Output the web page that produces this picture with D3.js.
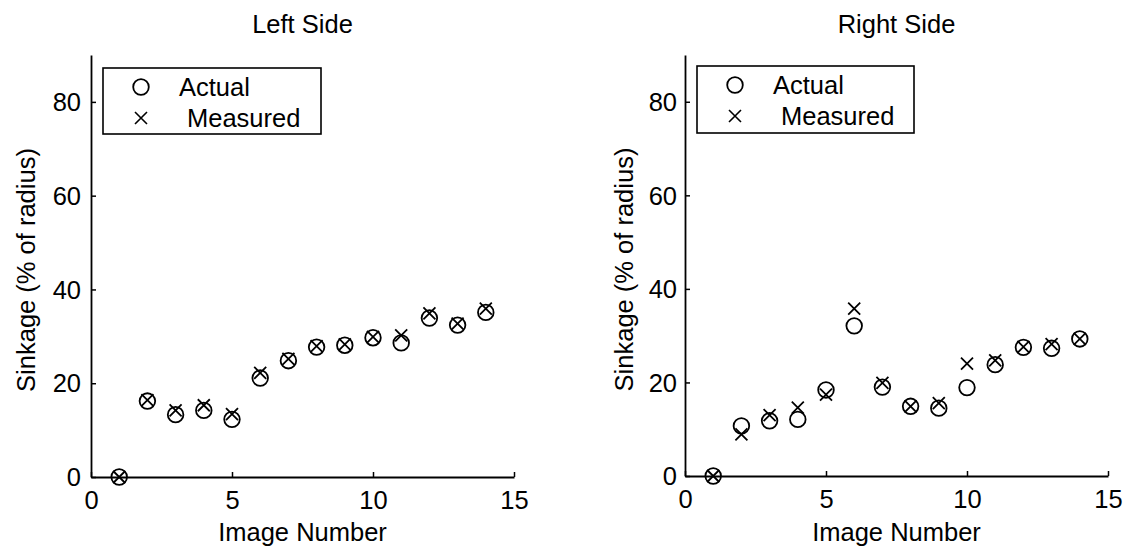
<!DOCTYPE html>
<html>
<head>
<meta charset="utf-8">
<script src="https://cdn.jsdelivr.net/npm/d3@7"></script>
<style>
  html, body { margin: 0; padding: 0; background: #fff; }
  svg { display: block; }
  text { font-family: "Liberation Sans", Arial, Helvetica, sans-serif; fill: #000; }
</style>
</head>
<body>
<svg id="chart" width="1128" height="548"></svg>
<script>
const imageNumbers = [1, 2, 3, 4, 5, 6, 7, 8, 9, 10, 11, 12, 13, 14];
const leftActual   = [0, 16.2, 13.3, 14.2, 12.3, 21.1, 24.8, 27.7, 28.1, 29.7, 28.6, 33.9, 32.4, 35.1];
const leftMeasured = [0, 16.4, 14.2, 15.3, 13.4, 22.2, 25.2, 27.9, 28.3, 29.9, 30.2, 34.9, 32.7, 35.9];
const rightActual   = [0, 10.7, 11.8, 12.1, 18.4, 32.1, 19.0, 14.9, 14.5, 18.9, 23.8, 27.5, 27.3, 29.3];
const rightMeasured = [0, 8.9, 13.0, 14.6, 17.4, 35.8, 19.9, 14.9, 15.6, 24.0, 24.7, 27.6, 28.2, 29.3];
const xTicks = [0, 5, 10, 15];
const yTicks = [0, 20, 40, 60, 80];
const xDomain = [0, 15];
const yDomain = [0, 90];
const titles = ["Left Side", "Right Side"];
const xLabel = "Image Number";
const yLabel = "Sinkage (% of radius)";
const legendLabels = ["Actual", "Measured"];

const svg = d3.select("#chart");
const FS = 25.5;

const panels = [
  { title: titles[0], actual: leftActual, measured: leftMeasured,
    x0: 91, x1: 514, y0: 477, y1: 55, ylabX: 35, tickPad: 10,
    legend: { x: 103, y: 68, w: 218, h: 66, mx: 141, tx1: 179, tx2: 187 } },
  { title: titles[1], actual: rightActual, measured: rightMeasured,
    x0: 685, x1: 1108, y0: 476, y1: 55, ylabX: 633, tickPad: 8,
    legend: { x: 697, y: 66, w: 217, h: 67, mx: 735, tx1: 773, tx2: 781 } }
];

panels.forEach(p => {
  const x = d3.scaleLinear().domain(xDomain).range([p.x0, p.x1]);
  const y = d3.scaleLinear().domain(yDomain).range([p.y0, p.y1]);
  const g = svg.append("g");

  // axes
  const xAxis = d3.axisBottom(x).tickValues(xTicks).tickSizeInner(-5).tickSizeOuter(0).tickPadding(14);
  const yAxis = d3.axisLeft(y).tickValues(yTicks).tickSizeInner(-5).tickSizeOuter(0).tickPadding(p.tickPad);

  const gx = g.append("g").attr("transform", `translate(0,${p.y0})`).call(xAxis);
  const gy = g.append("g").attr("transform", `translate(${p.x0},0)`).call(yAxis);
  [gx, gy].forEach(a => {
    a.selectAll("path.domain").attr("stroke", "#000").attr("stroke-width", 1.8);
    a.selectAll(".tick line").attr("stroke", "#000").attr("stroke-width", 1.5);
    a.selectAll(".tick text").style("font-family", '"Liberation Sans", Arial, sans-serif')
      .style("font-size", FS + "px").attr("fill", "#000");
  });
  gx.selectAll(".tick text").attr("dy", "0.71em");
  gy.selectAll(".tick text").attr("dy", "0.34em");

  // title
  g.append("text").attr("x", (p.x0 + p.x1) / 2).attr("y", 33)
    .attr("text-anchor", "middle").style("font-size", FS + "px").text(p.title);
  // x label
  g.append("text").attr("x", (p.x0 + p.x1) / 2).attr("y", 541)
    .attr("text-anchor", "middle").style("font-size", FS + "px").text(xLabel);
  // y label
  g.append("text")
    .attr("transform", `translate(${p.ylabX},${(p.y0 + p.y1) / 2 + 4}) rotate(-90)`)
    .attr("text-anchor", "middle").style("font-size", FS + "px").text(yLabel);

  // markers
  const pts = imageNumbers.map((n, i) => ({ n, a: p.actual[i], m: p.measured[i] }));
  g.selectAll("circle.actual").data(pts).join("circle")
    .attr("class", "actual")
    .attr("cx", d => x(d.n)).attr("cy", d => y(d.a)).attr("r", 7.8)
    .attr("fill", "none").attr("stroke", "#000").attr("stroke-width", 1.8);
  const s = 6;
  g.selectAll("path.measured").data(pts).join("path")
    .attr("class", "measured")
    .attr("d", d => {
      const cx = x(d.n), cy = y(d.m);
      return `M${cx - s},${cy - s}L${cx + s},${cy + s}M${cx - s},${cy + s}L${cx + s},${cy - s}`;
    })
    .attr("fill", "none").attr("stroke", "#000").attr("stroke-width", 1.8);

  // legend
  const L = p.legend;
  const lg = g.append("g");
  lg.append("rect").attr("x", L.x).attr("y", L.y).attr("width", L.w).attr("height", L.h)
    .attr("fill", "#fff").attr("stroke", "#000").attr("stroke-width", 1.6);
  const r1 = L.y + 19, r2 = L.y + 50;
  lg.append("circle").attr("cx", L.mx).attr("cy", r1).attr("r", 7.8)
    .attr("fill", "none").attr("stroke", "#000").attr("stroke-width", 1.8);
  lg.append("path")
    .attr("d", `M${L.mx - s},${r2 - s}L${L.mx + s},${r2 + s}M${L.mx - s},${r2 + s}L${L.mx + s},${r2 - s}`)
    .attr("stroke", "#000").attr("stroke-width", 1.6).attr("fill", "none");
  lg.append("text").attr("x", L.tx1).attr("y", r1 + 8.5).style("font-size", FS + "px").text(legendLabels[0]);
  lg.append("text").attr("x", L.tx2).attr("y", r2 + 8.5).style("font-size", FS + "px").text(legendLabels[1]);
});
</script>
</body>
</html>
